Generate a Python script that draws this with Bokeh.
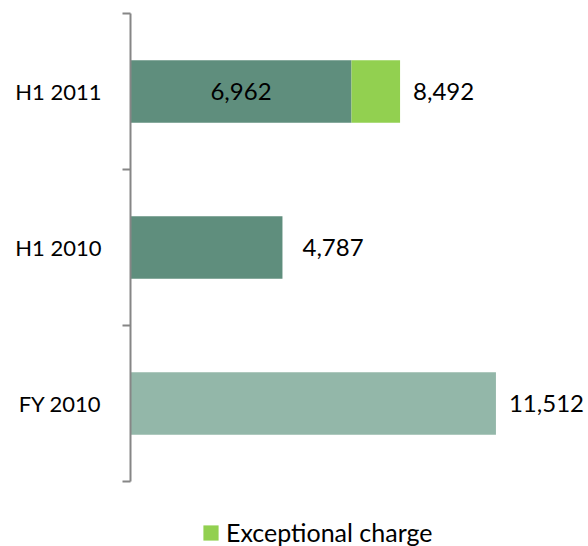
from bokeh.plotting import figure
from bokeh.models import ColumnDataSource, Range1d, FixedTicker, Legend, LegendItem
from bokeh.core.properties import value
from bokeh.embed import file_html
from bokeh.resources import INLINE

categories = ["FY 2010", "H1 2010", "H1 2011"]
base_values = [11512, 4787, 6962]
exceptional = [0, 0, 1530]
totals = [11512, 4787, 8492]
base_colors = ["#93b7a9", "#5f8e7d", "#5f8e7d"]
inside_label = ["", "", "6,962"]
total_label = ["11,512", "4,787", "8,492"]
label_pad = [13, 20, 13]

FONT = "Lato"

ypos = [i + 0.5 for i in range(len(categories))]

p = figure(width=588, height=546, output_backend="svg", toolbar_location=None,
           x_range=Range1d(0, 14428), y_range=Range1d(-0.417, 3),
           min_border_left=130, min_border_right=0, min_border_top=13, min_border_bottom=0)
p.outline_line_color = None
p.xgrid.visible = False
p.ygrid.visible = False
p.xaxis.visible = False

src = ColumnDataSource(dict(y=ypos, base=base_values, color=base_colors,
                            exc_left=base_values,
                            exc_right=[b + e for b, e in zip(base_values, exceptional)],
                            total=totals, tl=total_label, il=inside_label,
                            mid=[b / 2 for b in base_values], pad=label_pad))

p.hbar(y="y", left=0, right="base", height=0.4, fill_color="color", line_color=None, source=src)
exc = p.hbar(y="y", left="exc_left", right="exc_right", height=0.4, fill_color="#92d050",
             line_color=None, source=src)

p.text(x="total", y="y", text="tl", x_offset="pad", text_align="left", text_baseline="middle",
       text_font=value(FONT), text_font_size="24px", text_color="#000000", source=src)
p.text(x="mid", y="y", text="il", text_align="center", text_baseline="middle",
       text_font=value(FONT), text_font_size="24px", text_color="#000000", source=src)

ax = p.yaxis[0]
ax.bounds = (0, 3)
ax.ticker = FixedTicker(ticks=ypos, minor_ticks=[0, 1, 2, 3])
ax.major_label_overrides = {y: c for y, c in zip(ypos, categories)}
ax.major_tick_line_color = None
ax.major_tick_out = 0
ax.major_tick_in = 0
ax.minor_tick_line_color = "#868686"
ax.minor_tick_line_width = 2
ax.minor_tick_out = 8
ax.minor_tick_in = 0
ax.axis_line_color = "#868686"
ax.axis_line_width = 2
ax.major_label_standoff = 21
ax.major_label_text_font = FONT
ax.major_label_text_font_size = "22px"
ax.major_label_text_color = "#000000"

legend = Legend(items=[LegendItem(label="Exceptional charge", renderers=[exc])],
                location=(71, -1), orientation="horizontal",
                glyph_width=19, glyph_height=19, label_standoff=6,
                label_text_font=FONT, label_text_font_size="25px", label_text_color="#000000",
                padding=0, margin=0, border_line_color=None, background_fill_alpha=0)
p.add_layout(legend, "center")

open("out.html", "w").write(file_html(p, INLINE))
